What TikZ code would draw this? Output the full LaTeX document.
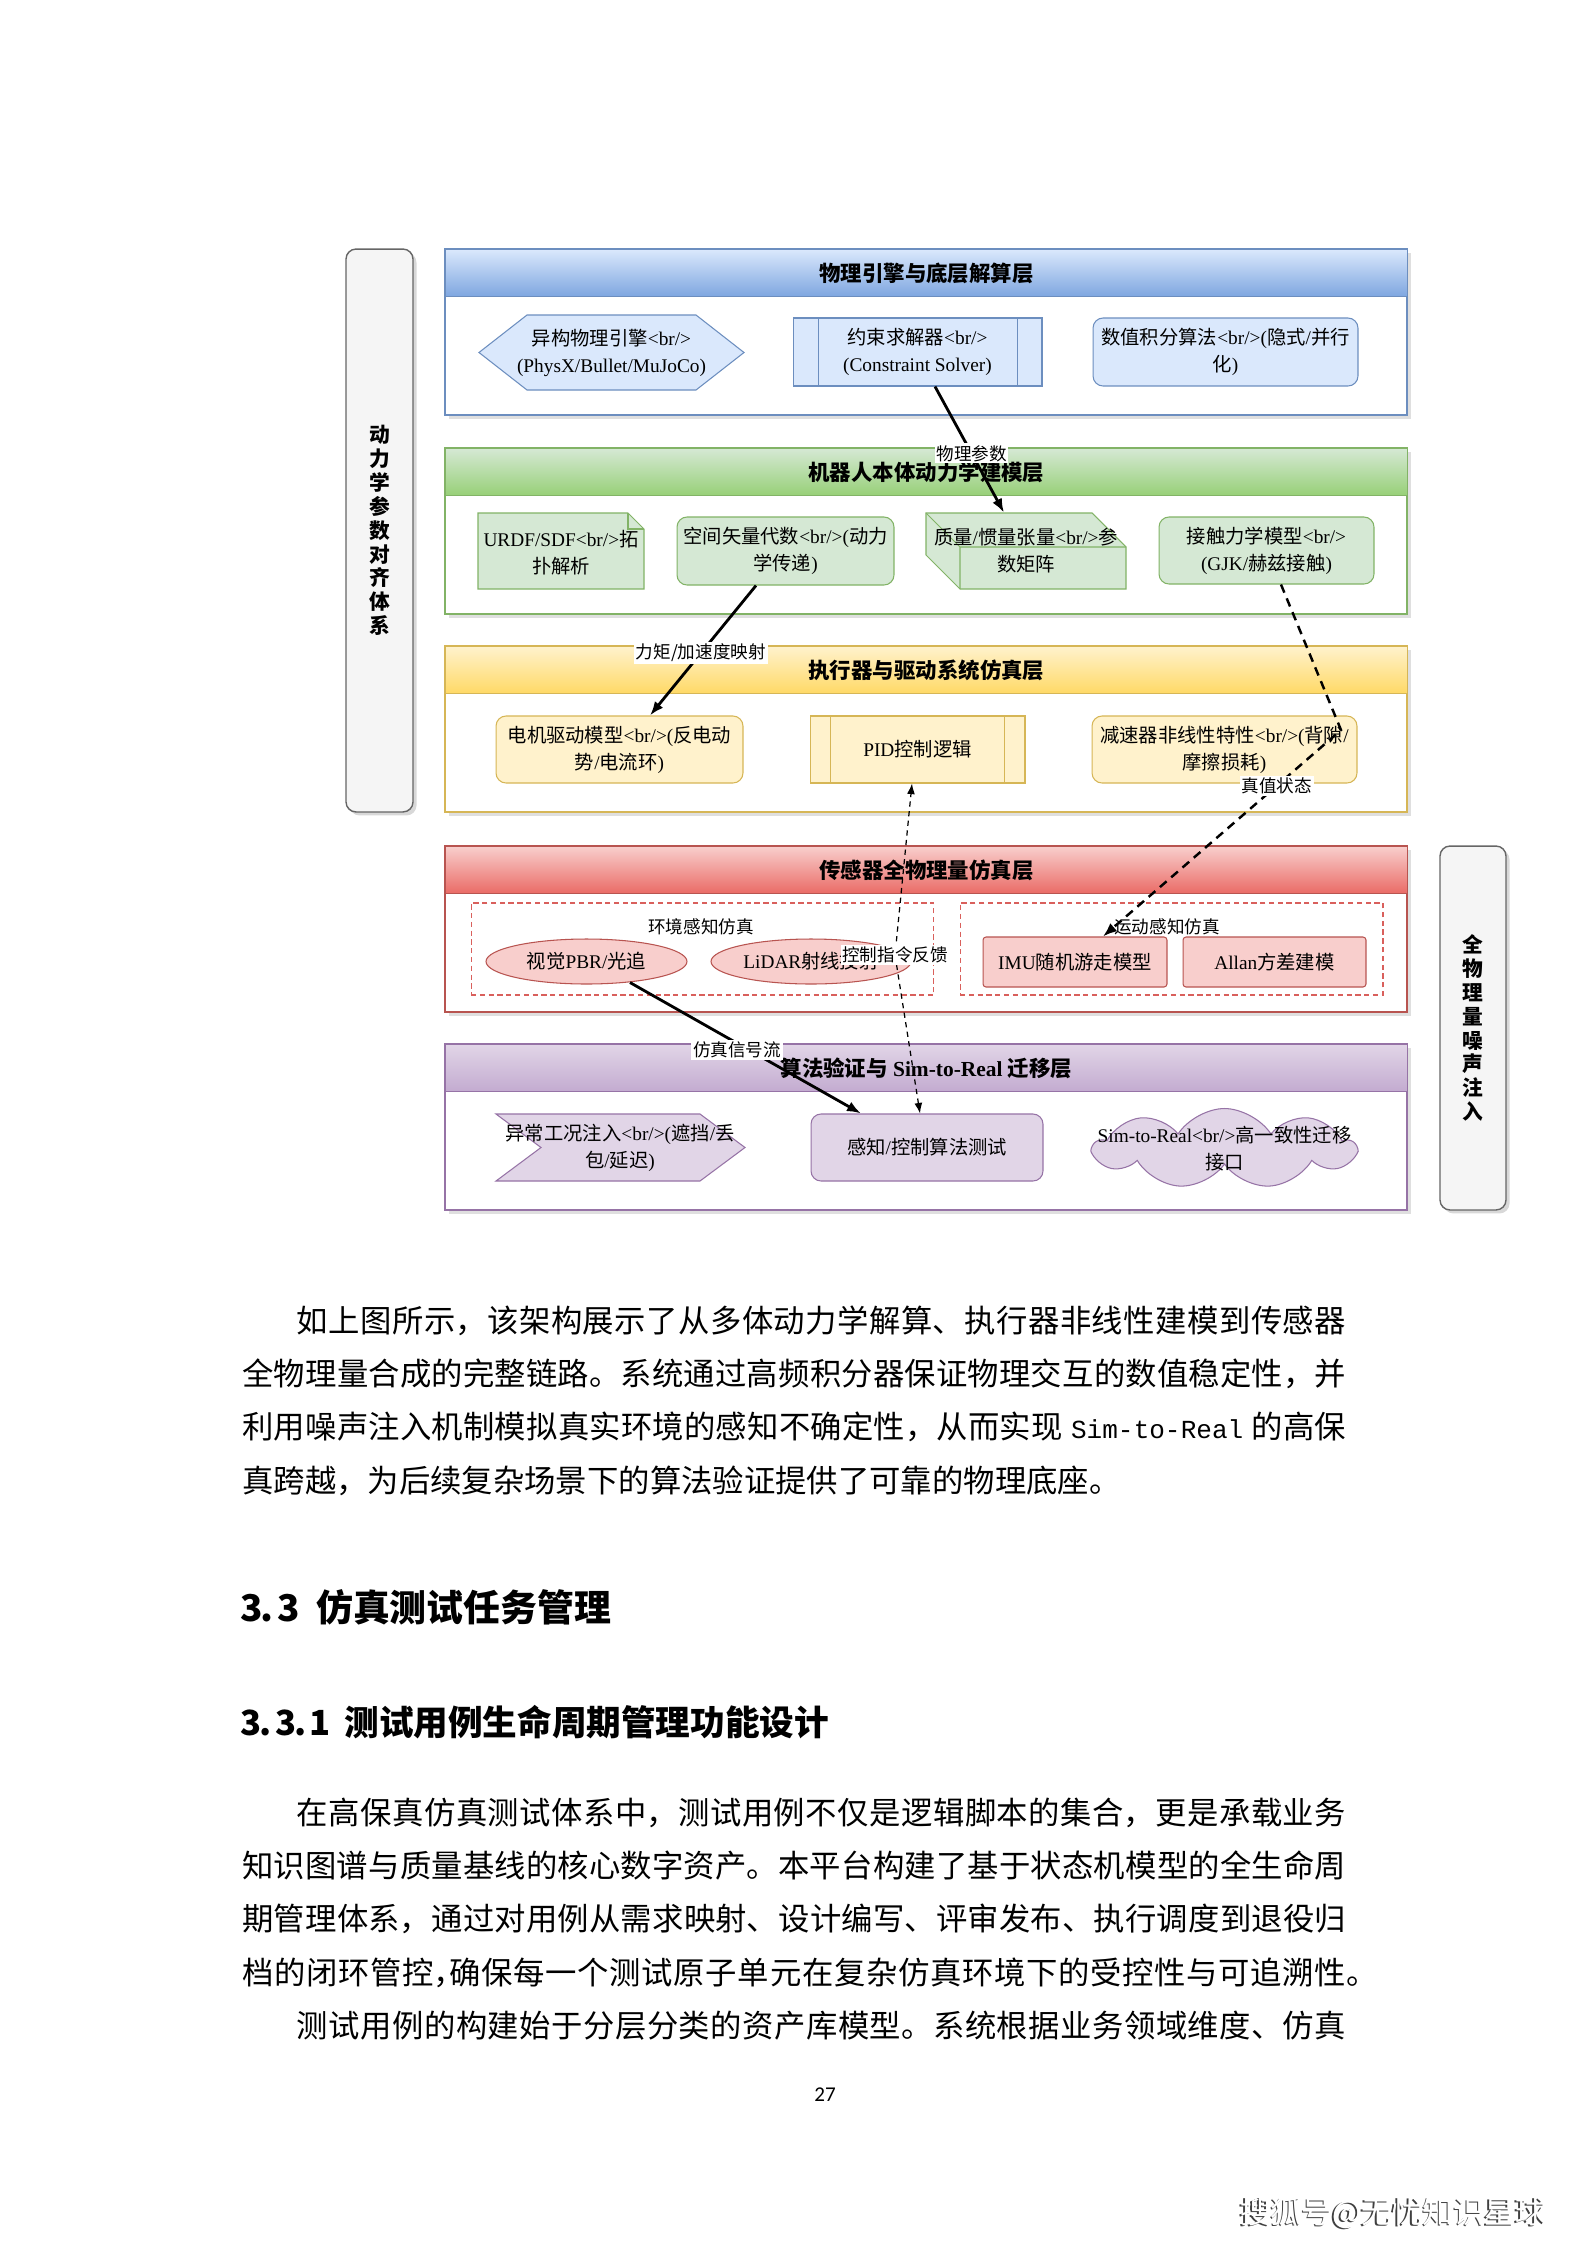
\documentclass[tikz,border=0pt]{standalone}
\usepackage{fontspec}
\setmainfont{Liberation Serif}
\setmonofont{Liberation Mono}[Scale=0.83]
\newfontfamily\cjkfont{Noto Sans CJK SC}
\newfontfamily\pnfont{Carlito}
\usetikzlibrary{shapes.geometric,shapes.symbols,shadows,arrows.meta,calc}

\definecolor{bS}{HTML}{6C8EBF}\definecolor{bF}{HTML}{DAE8FC}\definecolor{bD}{HTML}{7EA6E0}
\definecolor{gS}{HTML}{82B366}\definecolor{gF}{HTML}{D5E8D4}\definecolor{gD}{HTML}{97D077}
\definecolor{yS}{HTML}{D6B656}\definecolor{yF}{HTML}{FFF2CC}\definecolor{yD}{HTML}{FFD966}
\definecolor{rS}{HTML}{B85450}\definecolor{rF}{HTML}{F8CECC}\definecolor{rD}{HTML}{EA6B66}
\definecolor{pS}{HTML}{9673A6}\definecolor{pF}{HTML}{E1D5E7}\definecolor{pD}{HTML}{C3ABD0}
\definecolor{sideF}{HTML}{F5F5F5}\definecolor{sideS}{HTML}{666666}
\definecolor{grpS}{HTML}{D9605C}

% automatic CJK / Latin font switching
\newcommand\latinfont{\rmfamily}
\XeTeXinterchartokenstate=1
\newXeTeXintercharclass\cjkclass
\newcount\mycnt
\newcommand\setcjkrange[2]{\mycnt=#1 \loop\ifnum\mycnt<#2 \XeTeXcharclass\mycnt=\cjkclass \advance\mycnt by 1 \repeat}
\setcjkrange{"3000}{"3040}
\setcjkrange{"4E00}{"A000}
\setcjkrange{"FF00}{"FFF0}
\XeTeXinterchartoks 0 \cjkclass = {\cjkfont}
\XeTeXinterchartoks 4095 \cjkclass = {\cjkfont}
\XeTeXinterchartoks \cjkclass 0 = {\latinfont}
\XeTeXinterchartoks \cjkclass 4095 = {\latinfont}
\XeTeXlinebreaklocale "zh"
\XeTeXlinebreakskip=0pt plus 1pt

\newcommand\ndfont{\fontsize{11}{15.3}\selectfont}
\newcommand\hdrfont{\fontsize{12.2}{14}\selectfont\bfseries}
\newcommand\lblfont{\fontsize{10}{12}\selectfont\let\latinfont\cjkfont\cjkfont}
\newcommand\sidefont{\fontsize{11.8}{13.6}\selectfont\bfseries\let\latinfont\cjkfont\cjkfont}
\newcommand\bodyfont{\fontsize{17.85}{30.4}\selectfont\cjkfont}
\newcommand\honefont{\fontsize{21}{25}\selectfont\bfseries\let\latinfont\cjkfont\cjkfont}
\newcommand\htwofont{\fontsize{19.7}{24}\selectfont\bfseries\let\latinfont\cjkfont\cjkfont}
\newcommand\ftfont{\fontsize{17.5}{20}\selectfont\let\latinfont\cjkfont\cjkfont}
\newcommand\hw[1]{\makebox[0.5em][c]{#1}}
\newcommand\hwl[1]{\makebox[0.5em][l]{#1}}

\tikzset{
  ntext/.style={font=\ndfont, align=center, inner sep=1pt},
  rbox/.style={ntext, draw=#1S, fill=#1F, rounded corners=0.2cm, line width=0.6pt},
  pbox/.style={ntext, draw=#1S, fill=#1F, line width=0.6pt},
  ell/.style={ntext, ellipse, draw=#1S, fill=#1F, line width=0.6pt},
  lw/.style={line width=0.6pt},
  grp/.style={draw=grpS, dash pattern=on 3pt off 2pt, line width=0.6pt},
  glbl/.style={font=\lblfont, inner sep=1pt},
  lbl/.style={fill=white, inner sep=1pt, font=\lblfont},
  sidebox/.style={draw=sideS, fill=sideF, rounded corners=0.2cm, line width=0.8pt,
    drop shadow={opacity=0.3, shadow xshift=2pt, shadow yshift=-2pt},
    font=\sidefont, align=center},
  arr/.style={line width=1.6pt, -{Latex[length=8pt,width=6pt]}},
  darr/.style={line width=1.4pt, dash pattern=on 5pt off 3.5pt, -{Latex[length=8pt,width=6pt]}},
  fbarr/.style={line width=0.7pt, dash pattern=on 3pt off 2.5pt, {Latex[length=6pt,width=4.5pt]}-{Latex[length=6pt,width=4.5pt]}},
}

% name, ytop, stroke, light, dark, title
\newcommand\mylayer[6]{%
  \draw[#3, fill=white, line width=0.6pt, drop shadow={opacity=0.25, shadow xshift=2pt, shadow yshift=-2pt}] (445,#2) rectangle ++(962,166);
  \node[draw=#3, line width=0.6pt, top color=#4, bottom color=#5, minimum width=19.24cm, minimum height=0.94cm, anchor=north west, inner sep=0pt, font=\hdrfont] (#1) at (445,#2) {#6};
}

\begin{document}
\begin{tikzpicture}[x=0.02cm, y=-0.02cm]
\useasboundingbox (0,0) rectangle (1587,2245);
\fill[white] (0,0) rectangle (1587,2245);

% side boxes
\node[sidebox, minimum width=1.34cm, minimum height=11.26cm] (leftbox) at (379.5,530.5) {动\\力\\学\\参\\数\\对\\齐\\体\\系};
\node[sidebox, minimum width=1.32cm, minimum height=7.28cm] (rightbox) at (1473,1028) {全\\物\\理\\量\\噪\\声\\注\\入};

% layers
\mylayer{L1}{249}{bS}{bF}{bD}{物理引擎与底层解算层}
\mylayer{L2}{448}{gS}{gF}{gD}{机器人本体动力学建模层}
\mylayer{L3}{646}{yS}{yF}{yD}{执行器与驱动系统仿真层}
\mylayer{L4}{846}{rS}{rF}{rD}{传感器全物理量仿真层}
\mylayer{L5}{1044}{pS}{pF}{pD}{算法验证与 Sim-to-Real 迁移层}

% ---- blue layer
\draw[bS, fill=bF, lw] (479,352.5) -- (527,315) -- (696,315) -- (744,352.5) -- (696,390) -- (527,390) -- cycle;
\node[ntext, minimum width=5.3cm, minimum height=1.5cm] (hex) at (611.5,352.5) {异构物理引擎<br/>\\(PhysX/Bullet/MuJoCo)};
\node[pbox=b, minimum width=4.98cm, minimum height=1.36cm] (solver) at (917.5,352) {约束求解器<br/>\\(Constraint Solver)};
\draw[bS, lw] ($(solver.north west)+(26,0)$) -- ($(solver.south west)+(26,0)$)
              ($(solver.north east)+(-25,0)$) -- ($(solver.south east)+(-25,0)$);
\node[rbox=b, minimum width=5.3cm, minimum height=1.36cm] (integ) at (1225.5,352) {数值积分算法<br/>(隐式/并行\\化)};

% ---- green layer
\draw[gS, fill=gF, lw] (478,513) -- (628,513) -- (644,529) -- (644,589) -- (478,589) -- cycle;
\draw[gS, lw] (628,513) -- (628,529) -- (644,529);
\node[ntext, minimum width=3.32cm, minimum height=1.52cm] (urdf) at (561,553) {URDF/SDF<br/>拓\\扑解析};
\node[rbox=g, minimum width=4.34cm, minimum height=1.36cm] (spatial) at (785.5,551) {空间矢量代数<br/>(动力\\学传递)};
\draw[gS, fill=gF, lw] (926,513) -- (1092,513) -- (1126,547) -- (1126,589) -- (960,589) -- (926,555) -- cycle;
\draw[gS, lw] (926,513) -- (960,547) -- (1126,547) (960,547) -- (960,589);
\node[ntext, minimum width=4cm, minimum height=1.52cm] (mass) at (1026,551) {质量/惯量张量<br/>参\\数矩阵};
\node[rbox=g, minimum width=4.3cm, minimum height=1.34cm] (contact) at (1266.5,550.5) {接触力学模型<br/>\\(GJK/赫兹接触)};

% ---- yellow layer
\node[rbox=y, minimum width=4.94cm, minimum height=1.34cm] (motor) at (619.5,749.5) {电机驱动模型<br/>(反电动\\势/电流环)};
\node[pbox=y, minimum width=4.3cm, minimum height=1.34cm] (pid) at (917.5,749.5) {PID控制逻辑};
\draw[yS, lw] ($(pid.north west)+(21,0)$) -- ($(pid.south west)+(21,0)$)
              ($(pid.north east)+(-21,0)$) -- ($(pid.south east)+(-21,0)$);
\node[rbox=y, minimum width=5.3cm, minimum height=1.34cm] (reducer) at (1224.5,749.5) {减速器非线性特性<br/>(背隙/\\摩擦损耗)};

% ---- red layer
\node[grp, minimum width=9.26cm, minimum height=1.84cm] (g1) at (702.5,949) {};
\node[glbl] (g1lbl) at (701,927) {环境感知仿真};
\node[ell=r, minimum width=4.02cm, minimum height=0.9cm] (vis) at (586.5,961.5) {视觉PBR/光追};
\node[ell=r, minimum width=4.0cm, minimum height=0.9cm] (lidar) at (811,961.5) {LiDAR射线投射};
\node[grp, minimum width=8.46cm, minimum height=1.84cm] (g2) at (1171.5,949) {};
\node[glbl] (g2lbl) at (1167,927) {运动感知仿真};
\node[rbox=r, rounded corners=0.06cm, minimum width=3.68cm, minimum height=1.0cm] (imu) at (1075,962) {IMU随机游走模型};
\node[rbox=r, rounded corners=0.06cm, minimum width=3.66cm, minimum height=1.0cm] (allan) at (1274.5,962) {Allan方差建模};

% ---- purple layer
\draw[pS, fill=pF, lw] (496,1114) -- (700,1114) -- (745,1147.5) -- (700,1181) -- (496,1181) -- (541,1147.5) -- cycle;
\node[ntext, minimum width=4.98cm, minimum height=1.34cm] (anom) at (620,1147.5) {异常工况注入<br/>(遮挡/丢\\包/延迟)};
\node[rbox=p, minimum width=4.64cm, minimum height=1.34cm] (test) at (927,1147.5) {感知/控制算法测试};
\node[cloud, cloud puffs=9, cloud puff arc=115, aspect=3.0, draw=pS, fill=pF, lw, minimum width=5.22cm, minimum height=1.6cm, inner sep=0pt] (cloudsh) at (1224.5,1148.5) {};
\node[ntext] (cloudtxt) at (1224.5,1148.5) {Sim-to-Real<br/>高一致性迁移\\接口};

% ---- connectors
\draw[arr] ($(solver.south)+(17.5,0)$) -- node[lbl, pos=0.53]{物理参数} ($(mass.north)+(-22,0)$);
\draw[arr] ($(spatial.south)+(-29.5,0)$) -- node[lbl, pos=0.52]{力矩/加速度映射} ($(motor.north)+(30.5,0)$);
\coordinate (bend) at (1341,730);
\draw[darr] ($(contact.south)+(14.5,0)$) -- (bend) -- node[lbl, pos=0.27]{真值状态} ($(imu.north)+(28,0)$);
\coordinate (fbbend) at (895,955);
\draw[fbarr] ($(test.north)+(-7,0)$) -- (fbbend) node[lbl]{控制指令反馈} -- ($(pid.south)+(-5.5,0)$);
\draw[arr] ($(vis.south)+(43.5,-2)$) -- node[lbl, pos=0.515, xshift=-0.24cm]{仿真信号流} ($(test.north)+(-66,0)$);

% ---- page text
\node[anchor=base west, inner sep=0pt, text width=22.08cm, align=justify, font=\bodyfont] (para1) at (242,1332)
{\hspace*{1.09cm}如上图所示，该架构展示了从多体动力学解算、执行器非线性建模到传感器\linebreak
全物理量合成的完整链路。系统通过高频积分器保证物理交互的数值稳定性，并\linebreak
利用噪声注入机制模拟真实环境的感知不确定性，从而实现 \texttt{Sim-to-Real} 的高保\linebreak
真跨越，为后续复杂场景下的算法验证提供了可靠的物理底座。};

\node[anchor=base west, inner sep=0pt, font=\honefont] (h33) at (242,1621) {\hw{3}\hwl{.}\hw{3}\hspace{0.5em}仿真测试任务管理};
\node[anchor=base west, inner sep=0pt, font=\htwofont] (h331) at (242,1735.5) {\hw{3}\hwl{.}\hw{3}\hwl{.}\hw{1}\hspace{0.45em}测试用例生命周期管理功能设计};

\node[anchor=base west, inner sep=0pt, text width=22.08cm, align=justify, font=\bodyfont] (para2) at (242,1824)
{\parfillskip=0pt \hspace*{1.09cm}在高保真仿真测试体系中，测试用例不仅是逻辑脚本的集合，更是承载业务\linebreak
知识图谱与质量基线的核心数字资产。本平台构建了基于状态机模型的全生命周\linebreak
期管理体系，通过对用例从需求映射、设计编写、评审发布、执行调度到退役归\linebreak
档的闭环管控\makebox[0.5em][l]{，}确保每一个测试原子单元在复杂仿真环境下的受控性与可追溯性\rlap{。}\linebreak
\hspace*{1.09cm}测试用例的构建始于分层分类的资产库模型。系统根据业务领域维度、仿真\par};

\node[font=\pnfont\fontsize{12}{14}\selectfont] (pgnum) at (825,2095) {27};
\node[font=\ftfont, text=black!75] (ftshadow) at (1391.5,2214.5) {搜狐号@无忧知识星球};
\node[font=\ftfont, text=white] (footer) at (1393,2213) {搜狐号@无忧知识星球};
\end{tikzpicture}
\end{document}
